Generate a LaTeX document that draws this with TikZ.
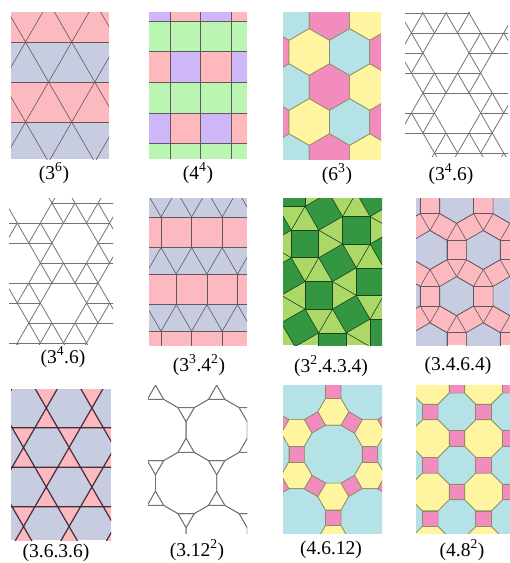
\documentclass[tikz,border=0pt]{standalone}
\usepackage{fontspec}
\setmainfont{Liberation Serif}
\usetikzlibrary{calc}

\definecolor{stripepink}{RGB}{252,186,192}
\definecolor{stripegray}{RGB}{200,204,224}
\definecolor{sqgreen}{RGB}{186,246,178}
\definecolor{sqpink}{RGB}{255,184,188}
\definecolor{sqviolet}{RGB}{206,182,248}
\definecolor{pcyan}{RGB}{180,226,230}
\definecolor{ppink}{RGB}{242,140,190}
\definecolor{pyellow}{RGB}{255,245,160}
\definecolor{darkgreen}{RGB}{52,150,64}
\definecolor{lightgreen}{RGB}{172,216,104}
\definecolor{edgegray}{RGB}{96,88,92}
\definecolor{edgeolive}{RGB}{140,140,100}
\definecolor{edgebrown}{RGB}{70,45,55}

% regular polygon: options, centre, sides, radius, first corner angle
\newcommand\tilepoly[5]{%
  \path[#1, shift={#2}] (#5:#4) \foreach \q in {2,...,#3}{ -- (#5+\q*360/#3-360/#3:#4)} -- cycle;}

\begin{document}
\begin{tikzpicture}[x=1pt, y=-1pt,
    tilename/.style={font=\fontsize{19.5}{20}\selectfont, inner sep=0pt},
    tline/.style={draw=edgegray, line width=0.6pt, line join=round},
    pline/.style={draw=edgeolive, line width=0.7pt, line join=round},
    wline/.style={draw=black!55, line width=0.8pt, line join=round},
    kline/.style={draw=edgebrown, line width=1.2pt, line join=round},
    gline/.style={draw=black!55!darkgreen, line width=0.6pt, line join=round}
]
\useasboundingbox (0,0) rectangle (510,563);

% (3^6)
\begin{scope}
  \clip (11,12) rectangle (109,159);
  \fill[stripepink] (11,12) rectangle (109,42);
  \fill[stripegray] (11,42) rectangle (109,82);
  \fill[stripepink] (11,82) rectangle (109,122);
  \fill[stripegray] (11,122) rectangle (109,159);
  \foreach \y in {42,82,122} \draw[tline] (11,\y) -- (109,\y);
  \foreach \k in {-4,...,4} {
    \draw[tline] ($(25.5+46.2*\k,42)+(60:-200)$) -- ++(60:400);
    \draw[tline] ($(25.5+46.2*\k,42)+(120:-200)$) -- ++(120:400);
  }
\end{scope}

% (4^4)
\begin{scope}
  \clip (149,12) rectangle (247,159);
  \fill[sqgreen] (149,12) rectangle (247,159);
  \foreach \y/\ca/\cb in {-9.6/sqviolet/sqpink, 51.6/sqpink/sqviolet, 112.8/sqviolet/sqpink}
    \foreach \x in {139.4,200.6} {
      \fill[\ca] (\x,\y) rectangle ++(30.6,30.6);
      \fill[\cb] (\x+30.6,\y) rectangle ++(30.6,30.6);
    }
  \foreach \x in {170,200.6,231.2} \draw[tline] (\x,12) -- (\x,159);
  \foreach \y in {21,51.6,82.2,112.8,143.4} \draw[tline] (149,\y) -- (247,\y);
\end{scope}

% (6^3)
\begin{scope}
  \clip (283,12) rectangle (381,159);
  \foreach \x/\col in {248.6/pyellow, 289/pcyan, 329.4/ppink, 369.8/pyellow, 410.2/pcyan}
    \foreach \y in {17,87,157} {\tilepoly{pline, fill=\col}{(\x,\y)}{6}{23.3}{30}}
  \foreach \x/\col in {228.4/pcyan, 268.8/ppink, 309.2/pyellow, 349.6/pcyan, 390/ppink}
    \foreach \y in {52,122} {\tilepoly{pline, fill=\col}{(\x,\y)}{6}{23.3}{30}}
\end{scope}

% (3^4.6), top row
\begin{scope}
  \clip (405,12) rectangle (508,156);
  \foreach \b in {-3,...,6} \foreach \a in {-6,...,6} {
    \pgfmathtruncatemacro\rr{mod(\a+5*\b+70,7)}
    \ifnum\rr>0
      \coordinate (v) at (446+23.1*\a+11.55*\b, 53+20*\b);
      \ifnum\rr=6\else \draw[wline] (v) -- ++(23.1,0); \fi
      \ifnum\rr=2\else \draw[wline] (v) -- ++(11.55,20); \fi
      \ifnum\rr=3\else \draw[wline] (v) -- ++(-11.55,20); \fi
    \fi
  }
\end{scope}

% (3^4.6), second row
\begin{scope}
  \clip (9,198) rectangle (113,344);
  \foreach \b in {-3,...,6} \foreach \a in {-6,...,6} {
    \pgfmathtruncatemacro\rr{mod(\a+3*\b+70,7)}
    \ifnum\rr>0
      \coordinate (v) at (75+23.1*\a+11.55*\b, 243+20*\b);
      \ifnum\rr=6\else \draw[wline] (v) -- ++(23.1,0); \fi
      \ifnum\rr=4\else \draw[wline] (v) -- ++(11.55,20); \fi
      \ifnum\rr=5\else \draw[wline] (v) -- ++(-11.55,20); \fi
    \fi
  }
\end{scope}

% (3^3.4^2)
\begin{scope}
  \clip (149,198) rectangle (247,345);
  \foreach \y in {190.5,247.6,304.7} \fill[stripegray] (149,\y) rectangle (247,\y+26.5);
  \foreach \y in {217,274.1,331.2} \fill[stripepink] (149,\y) rectangle (247,\y+30.6);
  \foreach \y in {217,247.6,274.1,304.7,331.2} \draw[tline] (149,\y) -- (247,\y);
  \foreach \k in {-1,...,3} {
    \draw[tline] (161+30.6*\k,217) -- ++(0,30.6);
    \draw[tline] (176.3+30.6*\k,274.1) -- ++(0,30.6);
    \draw[tline] (161+30.6*\k,331.2) -- ++(0,30.6);
    \draw[tline] (145.7+30.6*\k,190.5) -- (161+30.6*\k,217) -- (176.3+30.6*\k,190.5);
    \draw[tline] (161+30.6*\k,247.6) -- (176.3+30.6*\k,274.1) -- (191.6+30.6*\k,247.6);
    \draw[tline] (145.7+30.6*\k,304.7) -- (161+30.6*\k,331.2) -- (176.3+30.6*\k,304.7);
  }
\end{scope}

% (3^2.4.3.4)
\begin{scope}
  \clip (283,198) rectangle (382,345);
  \fill[lightgreen] (283,198) rectangle (382,345);
  \foreach \i in {-3,...,4} \foreach \j in {-3,...,4} {
    \pgfmathtruncatemacro\pty{mod(\i+\j+20,2)}
    \coordinate (sq) at ($(305,244)+(30:\i*37.57)+(120:\j*37.57)$);
    \ifnum\pty=0
      \draw[gline] ($(sq)+(45:19.45)$) -- ($(sq)+(30:37.57)+(120:37.57)+(225:19.45)$);
      \tilepoly{gline, fill=darkgreen}{(sq)}{4}{19.45}{45}
    \else
      \draw[gline] ($(sq)+(105:19.45)$) -- ($(sq)+(30:37.57)+(135:19.45)$);
      \tilepoly{gline, fill=darkgreen}{(sq)}{4}{19.45}{15}
    \fi
  }
\end{scope}

% (3.4.6.4)
\begin{scope}
  \clip (416,198) rectangle (510,345);
  \fill[stripepink] (416,198) rectangle (510,345);
  \foreach \i in {-3,...,3} \foreach \j in {-2,...,3} {
    \coordinate (hc) at ($(430,250)+(0:\i*53.3)+(60:\j*53.3)$);
    \tilepoly{tline, fill=stripegray}{(hc)}{6}{19.5}{30}
    \foreach \t in {0,60,120}
      {\tilepoly{tline}{($(hc)+(\t:26.65)$)}{4}{13.79}{\t+45}}
  }
\end{scope}

% (3.6.3.6)
\begin{scope}
  \clip (11,389) rectangle (111,540);
  \fill[stripegray] (11,389) rectangle (111,540);
  \foreach \i in {-3,...,3} \foreach \j in {-2,...,3} {
    \coordinate (kc) at ($(46.3,447.5)+(0:\i*45.6)+(60:\j*45.6)$);
    \tilepoly{kline, fill=stripepink}{($(kc)+(30:26.33)$)}{3}{13.16}{270}
    \tilepoly{kline, fill=stripepink}{($(kc)+(90:26.33)$)}{3}{13.16}{90}
  }
\end{scope}

% (3.12^2)
\begin{scope}
  \clip (148,385) rectangle (247,533);
  \foreach \i in {-2,...,3} \foreach \j in {-2,...,3} {
    \coordinate (dc) at ($(216.7,430)+(0:\i*61.2)+(120:\j*61.2)$);
    \tilepoly{wline}{(dc)}{12}{31.7}{15}
    \tilepoly{wline}{($(dc)+(30:35.33)$)}{3}{9.47}{30}
    \tilepoly{wline}{($(dc)+(90:35.33)$)}{3}{9.47}{90}
  }
\end{scope}

% (4.6.12)
\begin{scope}
  \clip (283,385) rectangle (382,533);
  \foreach \i in {-3,...,3} \foreach \j in {-2,...,2} {
    \coordinate (tc) at ($(333.3,454.2)+(0:\i*73.35)+(60:\j*73.35)$);
    \tilepoly{pline, fill=pcyan}{(tc)}{12}{29.95}{15}
    \tilepoly{pline, fill=pyellow}{($(tc)+(30:42.35)$)}{6}{15.5}{0}
    \tilepoly{pline, fill=pyellow}{($(tc)+(90:42.35)$)}{6}{15.5}{0}
    \foreach \t in {0,60,120}
      {\tilepoly{pline, fill=ppink}{($(tc)+(\t:36.67)$)}{4}{10.96}{\t+45}}
  }
\end{scope}

% (4.8^2)
\begin{scope}
  \clip (416,385) rectangle (510,533);
  \foreach \i in {-1,...,4} \foreach \j in {-1,...,6} {
    \pgfmathtruncatemacro\pty{mod(\i+\j+20,2)}
    \pgfmathtruncatemacro\pti{mod(\i+20,2)}
    \coordinate (oc) at (430.3+26.67*\i, 385.3+26.67*\j);
    \ifnum\pty=1
      \tilepoly{pline, fill=ppink}{(oc)}{4}{11.03}{45}
    \else\ifnum\pti=0
      \tilepoly{pline, fill=pyellow}{(oc)}{8}{20.38}{22.5}
    \else
      \tilepoly{pline, fill=pcyan}{(oc)}{8}{20.38}{22.5}
    \fi\fi
  }
\end{scope}

% names
\node[tilename] (n36) at (54,173) {(3\textsuperscript{6})};
\node[tilename] (n44) at (198,173) {(4\textsuperscript{4})};
\node[tilename] (n63) at (337,174) {(6\textsuperscript{3})};
\node[tilename] (n346a) at (451,174) {(3\textsuperscript{4}.6)};
\node[tilename] (n346b) at (63,357) {(3\textsuperscript{4}.6)};
\node[tilename] (n3342) at (199,365) {(3\textsuperscript{3}.4\textsuperscript{2})};
\node[tilename] (n32434) at (331,366) {(3\textsuperscript{2}.4.3.4)};
\node[tilename] (n3464) at (458,366) {(3.4.6.4)};
\node[tilename] (n3636) at (56,553) {(3.6.3.6)};
\node[tilename] (n3122) at (197,550) {(3.12\textsuperscript{2})};
\node[tilename] (n4612) at (331,550) {(4.6.12)};
\node[tilename] (n482) at (462,550) {(4.8\textsuperscript{2})};

\end{tikzpicture}
\end{document}
